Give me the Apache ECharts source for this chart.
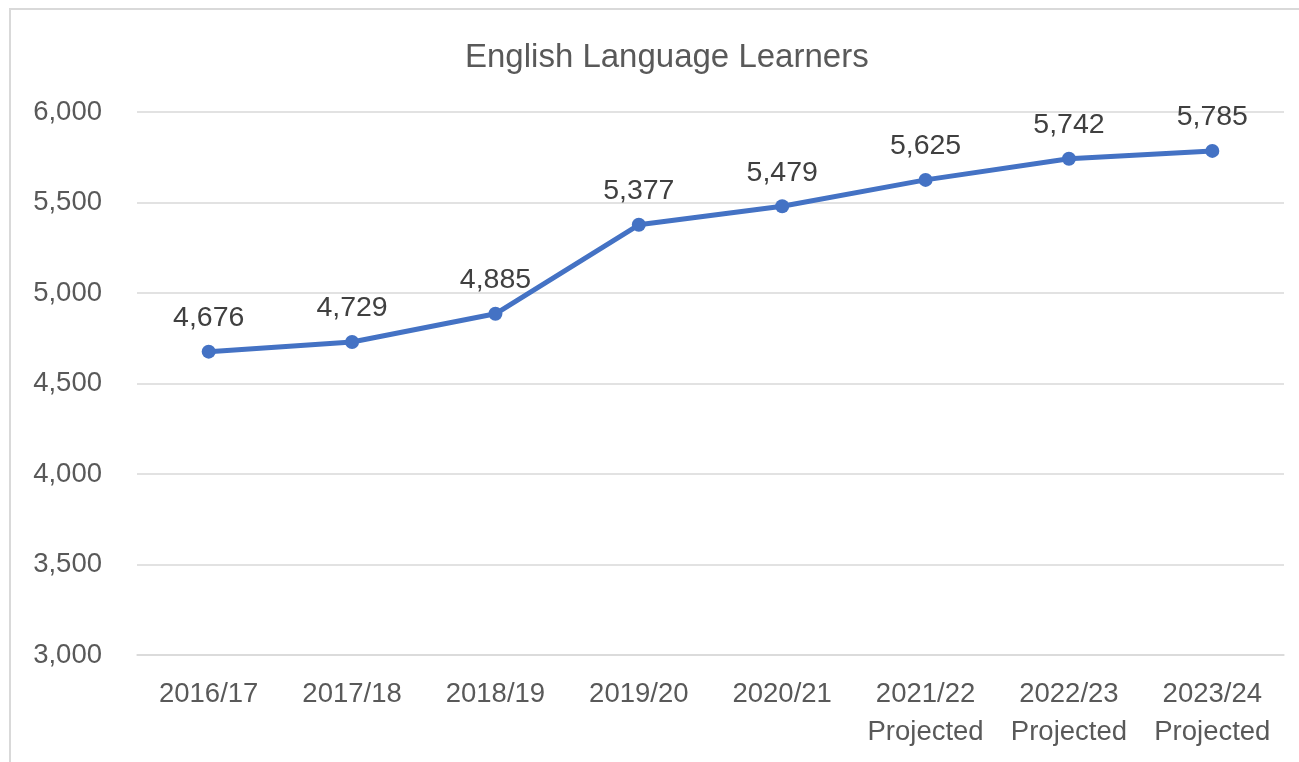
<!DOCTYPE html>
<html>
<head>
<meta charset="utf-8">
<script src="https://cdn.jsdelivr.net/npm/echarts@6/dist/echarts.min.js"></script>
<style>
  html, body { margin: 0; padding: 0; background: #fff; }
  #frame {
    position: absolute; left: 9px; top: 8px; width: 1300px; height: 760px;
    border-left: 2px solid #d9d9d9; border-top: 2px solid #d9d9d9;
    box-sizing: border-box;
  }
  #chart { position: absolute; left: 0; top: 0; width: 1299px; height: 762px; }
</style>
</head>
<body>
<div id="frame"></div>
<div id="chart"></div>
<script>
const years = ["2016/17", "2017/18", "2018/19", "2019/20", "2020/21",
  "2021/22\nProjected", "2022/23\nProjected", "2023/24\nProjected"];
const learners = [4676, 4729, 4885, 5377, 5479, 5625, 5742, 5785];

const FONT = "'Liberation Sans', Arial, sans-serif";
const chart = echarts.init(document.getElementById("chart"));

chart.setOption({
  animation: false,
  title: {
    text: "English Language Learners",
    left: 460,
    top: 36,
    textStyle: { fontFamily: FONT, fontSize: 33, fontWeight: "normal", color: "#595959" },
  },
  grid: { left: 137, right: 15, top: 112, bottom: 107 },
  xAxis: {
    type: "category",
    data: years,
    axisLine: { lineStyle: { color: "#d9d9d9", width: 1.5 } },
    axisTick: { show: false },
    axisLabel: {
      interval: 0,
      hideOverlap: false,
      fontFamily: FONT, fontSize: 27.5, color: "#595959", margin: 20, lineHeight: 38,
    },
  },
  yAxis: {
    type: "value",
    min: 3000,
    max: 6000,
    interval: 500,
    axisLine: { show: false },
    axisTick: { show: false },
    splitLine: { lineStyle: { color: "#d9d9d9", width: 1.5 } },
    axisLabel: {
      fontFamily: FONT, fontSize: 27.5, color: "#595959", margin: 35,
      formatter: (v) => v.toLocaleString("en-US"),
    },
  },
  series: [
    {
      type: "line",
      data: learners,
      symbol: "circle",
      symbolSize: 14,
      itemStyle: { color: "#4472c4" },
      lineStyle: { color: "#4472c4", width: 5 },
      label: {
        show: true,
        position: "top",
        distance: 12,
        fontFamily: FONT,
        fontSize: 28.5,
        color: "#404040",
        formatter: (p) => p.value.toLocaleString("en-US"),
      },
    },
  ],
});
</script>
</body>
</html>
